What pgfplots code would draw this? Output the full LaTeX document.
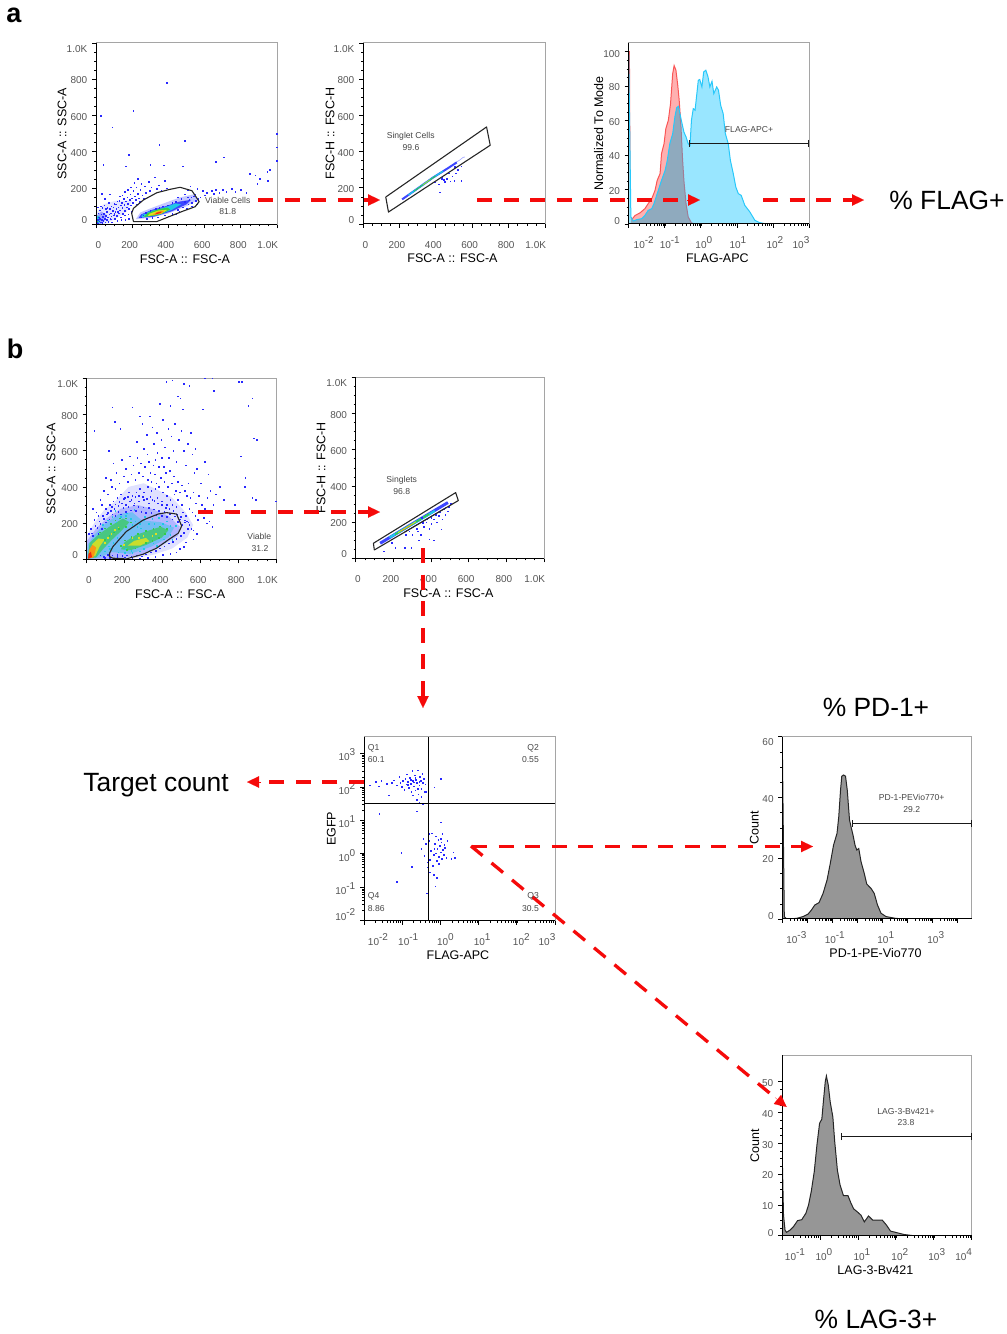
\documentclass[border=0pt]{standalone}
\usepackage{pgfplots}
\usepackage{pgfplotstable}
\usepackage{fontspec}
\setmainfont{Liberation Sans}
\pgfplotsset{compat=1.18}
\usetikzlibrary{arrows.meta}
\definecolor{ticktxt}{RGB}{85,85,85}
\definecolor{gatetxt}{RGB}{70,70,70}
\definecolor{frameg}{RGB}{165,165,165}
\definecolor{arrowred}{RGB}{245,10,10}
\definecolor{dotb}{RGB}{40,40,255}
\definecolor{haze}{RGB}{60,70,255}
\definecolor{dcyan}{RGB}{30,200,230}
\definecolor{dgreen}{RGB}{50,205,70}
\definecolor{dyellow}{RGB}{225,225,30}
\definecolor{dorange}{RGB}{250,150,20}
\definecolor{dred}{RGB}{245,40,20}
\definecolor{pinkf}{RGB}{255,176,176}
\definecolor{pinkl}{RGB}{250,85,85}
\definecolor{cyanf}{RGB}{153,230,255}
\definecolor{cyanl}{RGB}{40,200,250}
\definecolor{overf}{RGB}{143,170,190}
\definecolor{overl}{RGB}{160,125,150}
\definecolor{histf}{RGB}{150,150,150}
\newcommand\rs[2]{\hspace*{#1}#2}
\newcommand\ls[2]{#2\hspace*{#1}}
\newcommand\up[2]{#2\rule[-#1]{0pt}{#1}}
\newcommand\dn[2]{#2\rule{0pt}{#1}}
\newcommand\tp[1]{10\raisebox{5pt}{#1}}
\tikzset{
 gt/.style={font=\fontsize{8.6}{10}\selectfont,text=gatetxt,inner sep=0pt},
 big/.style={font=\fontsize{26.4}{30}\selectfont,text=black,inner sep=0pt},
}
\pgfplotsset{
 flow/.style={scale only axis, clip mode=individual,
  axis line style={color=frameg,line width=1pt},
  xtick pos=bottom, ytick pos=left, tick align=outside,
  major tick length=4pt, minor tick length=2pt,
  tick style={color=black,line width=0.7pt}, minor tick style={color=black,line width=0.5pt},
  tick label style={font=\fontsize{10}{12}\selectfont,text=ticktxt,inner sep=0pt},
  xticklabel style={anchor=base,yshift=-20.5pt},
  yticklabel style={anchor=east,xshift=-4.5pt,yshift=-1.3pt},
  every axis x label/.style={at={(rel axis cs:0.5,0)},anchor=center,xshift=-1.5pt,yshift=-34.5pt,font=\fontsize{12.5}{14}\selectfont,text=black},
  label style={font=\fontsize{12.5}{14}\selectfont},
  after end axis/.code={\draw[black,line width=1pt] (rel axis cs:0,1)--(rel axis cs:0,0)--(rel axis cs:1,0);},
 },
 yl/.style={every axis y label/.style={at={(rel axis cs:0,0.5)},rotate=90,anchor=center,yshift=#1,font=\fontsize{12.5}{14}\selectfont,text=black}},
 lin/.style={flow, xmin=0,xmax=1000,ymin=0,ymax=1000,
  xtick={0,200,400,600,800,1000}, ytick={0,200,400,600,800,1000},
  minor x tick num=3, minor y tick num=3,
  xticklabels={\rs{4.6pt}{0},\ls{5pt}{200},\ls{5pt}{400},\ls{5pt}{600},\ls{5pt}{800},\ls{18.6pt}{1.0K}},
  yticklabels={\up{11pt}{0},200,400,600,800,\dn{16pt}{1.0K}}},
 dots/.style={only marks,mark=square*,mark size=0.3pt,color=dotb,mark options={draw=none,fill=dotb,fill opacity=0.6}},
 cdots/.style={only marks,mark=square*,mark size=0.32pt,color=#1,mark options={draw=none,fill=#1}},
 blob/.style={draw=none,fill=#1,forget plot},
 gate/.style={color=black!85,line width=1.1pt,line join=round},
 rl/.style={color=arrowred,line width=3.3pt,dash pattern=on 15pt off 11.6pt},
 rh/.style={color=arrowred,line width=0.2pt,-{Triangle[length=12pt,width=11.5pt,fill=arrowred]}},
 br/.style={color=black!90,line width=1pt,|-|},
}
\pgfplotstableread{
d v
-2 100
-1.98 100
-1.96 4.1
-1.92 2.5
-1.82 5.0
-1.69 6.4
-1.55 8.9
-1.46 11.8
-1.36 14.7
-1.27 19.5
-1.21 25.3
-1.13 29.2
-1.09 40.8
-1.02 46.6
-0.97 55.3
-0.90 60.2
-0.84 69.8
-0.78 87.2
-0.74 91.9
-0.69 89.2
-0.64 80.5
-0.60 71.8
-0.55 56.3
-0.51 38.9
-0.47 25.3
-0.41 11.8
-0.35 4.1
-0.26 0.6
-0.16 0
3 0
}\redhist
\pgfplotstableread{
d v
-2 100
-1.94 4.1
-1.87 1.7
-1.78 2.5
-1.64 3.1
-1.55 5
-1.46 7.9
-1.36 8.9
-1.30 11.8
-1.18 19.5
-1.09 25.3
-0.99 31.1
-0.93 36.9
-0.86 46.6
-0.78 52.4
-0.72 62.1
-0.67 67.5
-0.62 68.3
-0.58 64
-0.52 58.2
-0.47 53.4
-0.41 50.5
-0.35 46.6
-0.30 45.6
-0.26 60.2
-0.21 66.9
-0.16 66
-0.12 73.7
-0.07 83.4
-0.03 83.8
0.03 79.5
0.08 88.2
0.14 89.2
0.20 85.3
0.25 79.5
0.31 82.8
0.36 75.6
0.44 79.5
0.49 77.6
0.55 68.9
0.62 64
0.68 52.4
0.76 46.6
0.82 36.9
0.90 29.2
0.97 21.5
1.04 17.6
1.12 16.6
1.22 10.8
1.36 7
1.50 2.1
1.63 0.8
1.82 0
3 0
}\bluehist
\pgfplotstableread{
d v
-1.94 4.1
-1.87 1.7
-1.78 2.5
-1.64 3.1
-1.55 5
-1.46 7.9
-1.36 8.9
-1.30 11.8
-1.18 19.5
-1.09 25.3
-0.99 31.1
-0.93 36.9
-0.86 46.6
-0.78 52.4
-0.72 62.1
-0.67 67.5
-0.62 68.3
-0.58 64
-0.55 56.3
-0.51 38.9
-0.47 25.3
-0.41 11.8
-0.35 4.1
-0.26 0.6
-0.16 0
}\overhist
\pgfplotstableread{
d v
-3 58
-2.96 29.3
-2.92 0.8
-2.83 0
-2.43 0.2
-2.17 0.8
-1.97 1.6
-1.83 3
-1.70 4.6
-1.53 5.4
-1.37 8.4
-1.21 12.8
-1.08 18.3
-0.95 24.3
-0.81 28.2
-0.74 33.7
-0.67 42.4
-0.62 47
-0.55 47.4
-0.47 47
-0.40 42.4
-0.31 32.6
-0.25 30.4
-0.17 27.6
-0.09 24.3
-0.02 22.7
0.06 23.2
0.15 18.9
0.28 15
0.38 11.5
0.55 10.1
0.68 8.4
0.81 4.6
0.95 1.9
1.15 0.8
1.54 0.2
1.94 0
4.58 0
}\pdhist
\pgfplotstableread{
d v
-1 29.4
-0.96 6.7
-0.92 1.8
-0.88 1.1
-0.79 1.8
-0.70 2.9
-0.59 4.9
-0.48 5.2
-0.37 7.3
-0.30 10
-0.23 14.3
-0.15 20.8
-0.08 29.4
-0.01 36.5
0.05 37.9
0.09 43.5
0.14 50
0.17 51.9
0.22 48.9
0.27 43.5
0.34 38.6
0.39 30.5
0.46 21.3
0.53 16.5
0.62 13
0.74 13
0.82 10.5
0.89 8.7
0.98 7.8
1.08 6.7
1.17 4.5
1.28 6.4
1.39 5.1
1.64 5.1
1.75 3.5
1.86 1.5
1.99 1.1
2.21 0.4
2.47 0
4 0
}\laghist
\pgfplotstableread{
lx ly
-1.85 2.05
-1.70 2.15
-1.62 2.02
-1.55 2.18
-1.40 2.10
-1.28 2.12
-1.22 2.20
-1.15 2.05
-1.08 2.30
-1.05 2.12
-1.02 2.00
-0.98 2.18
-0.95 1.92
-0.92 2.25
-0.90 2.08
-0.88 2.38
-0.85 2.15
-0.83 1.98
-0.80 2.28
-0.78 2.10
-0.76 1.85
-0.74 2.48
-0.72 2.18
-0.70 2.02
-0.68 2.35
-0.66 1.90
-0.64 2.22
-0.62 2.12
-0.60 2.50
-0.58 1.78
-0.56 2.05
-0.54 2.30
-0.52 2.18
-0.50 1.95
-0.48 2.40
-0.46 2.12
-0.44 2.25
-0.42 1.85
-0.40 2.08
-0.78 2.22
-0.86 2.06
-0.70 2.14
-0.66 2.28
-0.60 1.95
-0.55 2.16
-0.50 1.70
-0.62 1.62
-0.72 1.75
-1.35 1.75
-0.55 1.52
-0.47 1.50
-0.38 1.85
-0.16 1.99
0.00 2.24
-1.60 1.20
-0.62 1.27
-0.30 0.60
-0.45 0.45
-0.38 0.30
-0.50 0.15
-0.42 -0.05
-0.35 -0.25
-0.30 0.40
-0.25 0.10
-0.22 0.62
-0.18 -0.02
-0.15 0.30
-0.12 0.52
-0.10 -0.20
-0.08 0.15
-0.06 0.42
-0.04 -0.08
-0.02 0.25
0.00 0.05
0.02 0.35
0.03 -0.15
0.05 0.60
0.06 0.12
0.08 -0.02
0.10 0.28
0.12 0.18
0.15 -0.12
-0.28 -0.18
-0.20 -0.35
-0.12 0.02
-0.04 -0.30
-0.16 0.15
0.00 0.45
0.18 0.40
0.38 -0.12
0.28 -0.14
0.33 0.05
0.00 0.94
-1.03 0.03
-1.15 -0.84
-0.75 -0.39
-0.36 -1.18
-0.14 -0.97
-0.28 -0.55
-0.18 -0.62
-0.10 -0.72
-0.35 -0.40
}\qdots
\begin{document}
\begin{tikzpicture}[x=1pt,y=1pt]
\useasboundingbox (0,0) rectangle (1007,1334);

% ---------- a1
\begin{axis}[lin,yl=34pt,at={(96pt,1109.7pt)},anchor=south west,width=181pt,height=181.3pt,
 xlabel={FSC-A :: FSC-A},ylabel={SSC-A :: SSC-A}]
\addplot[blob=haze,fill opacity=0.14] coordinates {(0,0)(0,60)(40,110)(110,130)(200,130)(170,70)(100,25)(40,0)};
\addplot[blob=haze,fill opacity=0.4] coordinates {(0,0)(0,45)(30,70)(60,50)(45,15)(25,0)};
\addplot[blob=dcyan] coordinates {(0,0)(2,40)(18,48)(25,25)(15,3)};
\addplot[blob=dgreen] coordinates {(2,5)(4,28)(12,30)(12,10)};
\addplot[blob=haze,fill opacity=0.3] coordinates {(220,28)(300,35)(400,60)(500,100)(565,135)(540,165)(470,150)(400,125)(320,95)(245,65)};
\addplot[blob=haze] coordinates {(235,35)(320,42)(420,72)(500,110)(525,135)(460,125)(385,100)(310,80)(250,55)};
\addplot[blob=dcyan] coordinates {(250,38)(340,50)(420,80)(470,110)(440,115)(370,90)(300,72)(255,52)};
\addplot[blob=dgreen] coordinates {(265,40)(350,52)(410,82)(395,92)(340,82)(285,62)};
\addplot[blob=dyellow] coordinates {(285,45)(360,58)(395,80)(345,76)(295,58)};
\addplot[blob=dorange] coordinates {(310,50)(365,62)(378,76)(340,70)};
\addplot[blob=dred] coordinates {(325,54)(358,62)(362,70)(335,64)};
\addplot[dots] coordinates {(5,10)(8,25)(12,5)(15,40)(18,18)(22,30)(25,12)(28,55)(30,25)(34,8)(38,42)(40,20)(44,60)(48,32)(50,12)(55,48)(58,25)(60,70)(65,38)(68,15)(72,55)(75,85)(78,30)(82,62)(85,45)(88,12)(92,75)(95,95)(98,50)(102,30)(105,68)(108,110)(112,85)(115,48)(118,20)(122,95)(125,62)(128,130)(132,78)(135,105)(138,40)(142,120)(145,90)(148,60)(152,140)(155,108)(158,75)(162,25)(165,128)(168,95)(172,150)(175,115)(178,55)(182,85)(185,135)(188,165)(192,105)(195,70)(198,145)(202,120)(205,185)(210,95)(215,155)(218,135)(222,205)(225,110)(230,170)(235,145)(240,125)(245,190)(250,225)(255,160)(262,140)(268,210)(275,175)(282,150)(290,235)(298,185)(305,205)(315,165)(325,260)(335,195)(345,215)(360,185)(378,240)(390,200)
(30,170)(40,330)(25,600)(90,535)(205,625)(390,780)(350,440)(490,460)(180,385)(165,320)(300,330)(375,325)(480,320)(660,345)(707,370)(850,280)(880,270)(905,250)(890,225)(960,300)(945,290)(950,240)(997,500)(997,350)(997,425)
(590,185)(610,175)(640,185)(660,190)(680,175)(700,190)(720,180)(750,195)(770,180)(800,190)(830,175)(600,160)(650,170)(560,195)(520,210)(505,190)
(250,40)(280,30)(310,35)(340,40)(380,50)(420,60)(450,80)(480,95)(510,110)(530,120)(550,130)(565,140)(540,155)(505,150)(470,140)(440,125)(420,120)(395,105)(370,100)(350,90)(330,85)(300,75)(275,65)(260,50)(490,125)(515,135)(525,150)(555,110)(575,150)(460,70)(440,55)(400,45)(500,85)(530,100)(545,165)(490,165)(450,150)
(12,62)(20,78)(35,90)(45,105)(62,92)(70,120)(85,100)(100,115)(118,128)(130,155)(145,160)(160,180)(175,190)(192,205)(210,230)(230,250)(140,25)(160,50)(180,30)(120,70)(100,60)(85,28)(55,85)(25,100)(10,95)(48,140)(75,165)};
\addplot[gate] coordinates {(197,61)(207,88)(262,134)(336,174)(410,193)(465,204)(530,185)(570,125)(548,97)(474,70)(336,15)(207,15)(197,61)};
\end{axis}

% ---------- a2
\begin{axis}[lin,yl=33pt,at={(363pt,1110pt)},anchor=south west,width=182pt,height=181pt,
 xlabel={FSC-A :: FSC-A},ylabel={FSC-H :: FSC-H}]
\addplot[color=haze,line width=0.6pt,opacity=0.5] coordinates {(500,335)(530,352)(550,368)(560,370)};
\addplot[color=haze,line width=2pt] coordinates {(215,136)(300,196)(384,256)(457,302)(515,340)};
\addplot[color=dcyan,line width=1.3pt] coordinates {(250,160)(384,256)(440,292)};
\addplot[color=dgreen,line width=0.8pt] coordinates {(280,181)(400,266)};
\addplot[color=dyellow,line width=0.4pt] coordinates {(330,217)(370,246)};
\addplot[dots,mark options={fill opacity=0.4}] coordinates {(420,175)(415,220)(450,235)(480,237)(460,250)(470,280)(435,260)(445,245)(500,240)(540,238)(510,280)(490,265)(520,300)(432,250)(395,230)(540,320)(505,318)};
\addplot[gate] coordinates {(125,149)(679,536)(699,435)(140,66)(125,149)};
\end{axis}

% ---------- a3
\begin{axis}[flow,yl=30pt,at={(628.7pt,1110pt)},anchor=south west,width=180.3pt,height=181pt,
 xmode=log,xmin=0.01,xmax=1000,ymin=0,ymax=105,
 xtick={0.01,0.1,1,10,100,1000},
 xticklabels={\rs{30pt}{\tp{-2}},\rs{10pt}{\tp{-1}},\rs{6pt}{\tp{0}},\rs{2pt}{\tp{1}},\rs{4pt}{\tp{2}},\ls{16pt}{\tp{3}}},
 ytick={0,20,40,60,80,100},minor y tick num=3,
 yticklabels={\up{8pt}{0},20,40,60,80,\dn{9pt}{100}},
 xlabel={FLAG-APC},ylabel={Normalized To Mode}]
\addplot[fill=pinkf,draw=pinkl,line width=1pt] table[x expr={10^(\thisrow{d})},y=v]{\redhist} \closedcycle;
\addplot[fill=cyanf,draw=none] table[x expr={10^(\thisrow{d})},y=v]{\bluehist} \closedcycle;
\addplot[fill=overf,draw=none] table[x expr={10^(\thisrow{d})},y=v]{\overhist} \closedcycle;
\addplot[color=overl,line width=1pt] coordinates {(0.263,64)(0.282,56.3)(0.309,38.9)(0.339,25.3)(0.389,11.8)(0.447,4.1)(0.55,0.6)(0.69,0)};
\addplot[color=pinkl,line width=1pt] coordinates {(0.69,0)(1000,0)};
\addplot[color=cyanl,line width=1pt] table[x expr={10^(\thisrow{d})},y=v]{\bluehist};
\end{axis}

% ---------- b1
\begin{axis}[lin,yl=35.7pt,at={(86.7pt,774.7pt)},anchor=south west,width=190pt,height=181pt,
 xlabel={FSC-A :: FSC-A},ylabel={SSC-A :: SSC-A}]
\addplot[blob=haze,fill opacity=0.16] coordinates {(0,0)(0,130)(40,200)(90,270)(150,320)(220,400)(300,420)(380,380)(450,340)(520,260)(560,190)(530,120)(450,60)(350,25)(250,5)(100,0)};
\addplot[blob=haze,fill opacity=0.28] coordinates {(0,0)(0,100)(50,170)(110,230)(180,280)(270,300)(340,280)(430,240)(490,180)(480,130)(400,80)(300,30)(180,5)(80,0)};
\addplot[blob=dcyan,fill opacity=0.42] coordinates {(0,0)(5,80)(40,135)(95,195)(170,250)(240,260)(290,215)(390,205)(460,175)(430,120)(340,70)(230,30)(130,40)(70,10)};
\addplot[blob=dgreen,fill opacity=0.65] coordinates {(5,5)(15,90)(60,135)(120,180)(190,225)(225,205)(180,155)(130,105)(85,55)(50,10)};
\addplot[blob=dgreen,fill opacity=0.65] coordinates {(180,55)(230,50)(310,78)(395,120)(430,160)(390,180)(330,160)(260,135)(200,95)};
\addplot[blob=dyellow,fill opacity=0.85] coordinates {(12,18)(30,85)(62,115)(95,110)(68,70)(45,18)};
\addplot[blob=dyellow,fill opacity=0.85] coordinates {(215,75)(280,75)(330,100)(312,118)(250,102)};
\addplot[blob=dorange] coordinates {(8,4)(14,55)(30,80)(50,65)(36,10)};
\addplot[blob=dred] coordinates {(7,3)(10,30)(22,42)(28,12)};
\addplot[dots] coordinates {(40,710)(115,600)(135,840)(148,760)(176,720)(240,840)(262,650)(280,790)(292,750)(300,610)(315,690)(318,580)(330,790)(345,730)(352,640)(360,550)(368,700)(372,590)(385,860)(392,660)(400,770)(405,510)(410,620)(418,980)(428,720)(432,560)(440,850)(445,680)(450,990)(455,600)(462,750)(470,540)(478,900)(485,660)(492,890)(498,710)(505,830)(512,600)(520,520)(530,640)(540,960)(548,700)(556,580)(565,480)(572,610)(580,500)(600,420)(610,830)(620,540)(640,470)(650,380)(668,930)(680,360)(700,400)(720,330)(778,300)(800,980)(815,980)(850,850)(870,890)(880,670)(895,660)(810,570)(835,450)(830,400)(870,340)(890,330)(995,320)(660,1000)(510,970)(620,1000)
(100,450)(125,440)(140,530)(155,480)(170,420)(185,550)(195,460)(205,500)(215,430)(225,570)(235,470)(245,520)(255,440)(265,560)(275,480)(285,530)(295,460)(305,510)(320,440)(325,540)(335,480)(340,430)(350,520)(358,470)(365,420)(378,510)(388,450)(395,560)(408,430)(415,480)(425,400)(438,490)(448,420)(458,460)(468,380)(480,430)(490,370)(500,410)(515,380)(525,350)(535,420)(545,340)(560,370)(575,310)(590,350)(605,300)(620,280)(635,340)(650,270)(665,300)(540,280)(555,260)(570,240)(585,220)(600,260)(615,230)(630,200)(645,210)(660,180)(520,240)(500,300)(480,330)(460,360)(440,330)(420,350)(400,370)(380,400)(360,390)(340,380)(320,400)(300,370)(280,390)(260,370)(240,350)(220,370)(200,340)(180,360)(160,340)(140,320)(120,300)(100,280)(80,300)(60,240)(40,220)(20,170)(10,140)(30,280)(50,260)(70,330)(90,380)(110,360)(130,400)(150,390)
(560,110)(580,140)(520,95)(510,70)(490,60)(470,40)(440,30)(400,25)(360,15)(320,8)(280,5)(240,8)(200,12)(160,14)(120,10)(95,8)(560,160)(540,190)(525,210)(505,260)(470,290)(450,300)(420,300)(395,320)(370,340)(345,330)(325,310)(300,330)(275,320)(250,310)(225,320)(205,300)(185,310)(165,295)(145,280)(125,270)(105,250)(85,240)(65,210)(45,185)(25,145)
(150,240)(165,262)(178,250)(192,285)(205,262)(218,290)(232,272)(246,298)(258,268)(272,292)(286,264)(298,288)(312,258)(326,284)(340,256)(352,276)(366,248)(380,268)(394,240)(408,262)(422,234)(436,252)(450,222)(464,238)(478,208)(490,222)(502,190)(516,205)(530,170)(510,148)(495,130)(470,115)(452,98)(430,88)(408,72)(385,62)(362,48)(338,40)(312,28)(288,18)(262,22)(235,14)(210,22)(186,20)(160,26)(135,22)(110,24)(90,14)(70,22)(60,140)(80,170)(100,205)(118,222)(135,250)(55,175)(32,130)(70,195)(90,225)(110,258)(130,290)(150,305)(170,318)(195,335)(215,345)(235,330)(255,345)(275,352)(295,345)(315,335)(335,345)(355,325)(375,310)(395,300)(415,285)(435,280)(455,268)(475,250)(495,235)(515,215)(535,205)(550,168)};
\addplot[cdots=dcyan] coordinates {(85,190)(110,215)(135,235)(210,255)(250,275)(150,270)(305,235)(345,225)(380,230)(420,210)(470,185)(450,110)(410,95)(370,75)(330,50)(280,45)(240,35)(200,35)(165,40)(120,60)(95,45)(155,205)(180,235)(205,240)(230,225)(255,210)(280,198)(300,215)(325,198)(355,195)(400,195)(440,185)(240,190)(265,180)(285,172)(160,120)(140,90)(115,72)(205,60)(235,48)(300,60)(350,88)(405,112)(440,135)};
\addplot[cdots=dgreen] coordinates {(70,150)(95,172)(125,195)(150,215)(175,228)(205,228)(232,205)(205,180)(170,170)(142,150)(118,130)(95,110)(180,75)(210,52)(255,62)(310,90)(345,102)(380,118)(410,140)(420,168)(385,182)(350,170)(310,158)(270,142)(235,125)(200,105)};
\addplot[cdots=dyellow] coordinates {(110,120)(128,140)(148,165)(165,178)(95,90)(240,118)(272,120)(298,132)(345,132)(362,140)(195,80)};
\addplot[gate] coordinates {(120,33)(138,70)(208,153)(297,217)(376,250)(420,258)(473,250)(500,184)(482,144)(429,107)(367,61)(297,28)(208,2)(138,6)(120,15)(120,33)};
\end{axis}

% ---------- b2
\begin{axis}[lin,yl=34.7pt,at={(355.7pt,775.7pt)},anchor=south west,width=188.3pt,height=181pt,
 xlabel={FSC-A :: FSC-A},ylabel={FSC-H :: FSC-H}]
\addplot[color=haze,line width=3pt] coordinates {(130,83)(300,190)(490,308)};
\addplot[color=dcyan,line width=2.2pt] coordinates {(180,115)(420,262)};
\addplot[color=dgreen,line width=1.4pt] coordinates {(210,132)(390,245)};
\addplot[color=dyellow,line width=0.8pt] coordinates {(225,142)(320,202)};
\addplot[color=dorange,line width=0.5pt] coordinates {(240,150)(300,188)};
\addplot[color=blue!50!black,line width=0.8pt] coordinates {(260,145)(480,280)};
\addplot[dots] coordinates {(150,40)(190,85)(210,60)(260,60)(295,60)(335,100)(350,55)(390,105)(415,100)(300,130)(330,150)(345,130)(360,175)(375,200)(390,165)(400,190)(415,215)(430,200)(440,235)(460,215)(475,240)(455,160)(490,260)(470,275)(445,255)(425,240)(400,225)(380,215)(355,195)(325,165)(285,150)(265,130)(495,285)(505,300)(350,225)};
\addplot[gate] coordinates {(94,83)(531,363)(545,319)(99,46)(94,83)};
\end{axis}

% ---------- quadrant
\begin{axis}[flow,yl=32.7pt,at={(364pt,413.3pt)},anchor=south west,width=191pt,height=184pt,
 xmode=log,ymode=log,xmin=0.01,xmax=1000,ymin=0.01,ymax=3162,
 xtick={0.01,0.1,1,10,100,1000},ytick={0.01,0.1,1,10,100,1000},
 xticklabels={\rs{28pt}{\tp{-2}},\rs{12pt}{\tp{-1}},\rs{10pt}{\tp{0}},\rs{7pt}{\tp{1}},\rs{9pt}{\tp{2}},\ls{16pt}{\tp{3}}},
 yticklabels={\up{14pt}{\tp{-2}},\tp{-1},\tp{0},\tp{1},\tp{2},\tp{3}},
 xlabel={FLAG-APC},ylabel={EGFP}]
\addplot[dots] table[x expr={10^(\thisrow{lx})},y expr={10^(\thisrow{ly})}]{\qdots};
\addplot[color=black,line width=1.1pt] coordinates {(0.493,0.01)(0.493,3162)};
\addplot[color=black,line width=1.1pt] coordinates {(0.01,31.2)(1000,31.2)};
\end{axis}

% ---------- PD-1
\begin{axis}[flow,yl=28pt,at={(782.3pt,415pt)},anchor=south west,width=189.4pt,height=182.3pt,
 xmode=log,xmin=0.001,xmax=38000,ymin=0,ymax=60,
 xtick={0.001,0.01,0.1,1,10,100,1000,10000},
 xticklabels={\rs{28pt}{\tp{-3}},,\rs{5pt}{\tp{-1}},,\rs{7pt}{\tp{1}},,\rs{7pt}{\tp{3}},},
 ytick={0,20,40,60},minor y tick num=3,
 yticklabels={\up{8pt}{0},20,40,\dn{16pt}{60}},
 xlabel={PD-1-PE-Vio770},ylabel={Count}]
\addplot[fill=histf,draw=black!85,line width=1pt] table[x expr={10^(\thisrow{d})},y=v]{\pdhist} \closedcycle;
\end{axis}

% ---------- LAG-3
\begin{axis}[flow,yl=27.3pt,at={(782pt,98.3pt)},anchor=south west,width=189.7pt,height=180.7pt,
 xmode=log,xmin=0.1,xmax=10000,ymin=0,ymax=58.7,
 xtick={0.1,1,10,100,1000,10000},
 xticklabels={\rs{26pt}{\tp{-1}},\rs{8pt}{\tp{0}},\rs{8pt}{\tp{1}},\rs{8pt}{\tp{2}},\rs{6pt}{\tp{3}},\ls{16pt}{\tp{4}}},
 ytick={0,10,20,30,40,50},minor y tick num=3,
 yticklabels={\up{8pt}{0},10,20,30,40,50},
 xlabel={LAG-3-Bv421},ylabel={Count}]
\addplot[fill=histf,draw=black!85,line width=1pt] table[x expr={10^(\thisrow{d})},y=v]{\laghist} \closedcycle;
\end{axis}

% ---------- overlay in picture pixels
\begin{axis}[at={(0pt,0pt)},anchor=south west,scale only axis,width=1007pt,height=1334pt,
 hide axis,clip=false,xmin=0,xmax=1007,ymin=0,ymax=1334,y dir=reverse]
% brackets
\addplot[br] coordinates {(689.3,143.3)(809,143.3)};
\addplot[br] coordinates {(851.7,823.3)(971.7,823.3)};
\addplot[br] coordinates {(840.7,1136.7)(971.7,1136.7)};
% arrows
\addplot[rl] coordinates {(258,200)(368,200)};
\addplot[rh] coordinates {(366,200)(380,200)};
\addplot[rl] coordinates {(477,200)(689,200)};
\addplot[rh] coordinates {(687,200)(700,200)};
\addplot[rl] coordinates {(763,200)(853,200)};
\addplot[rh] coordinates {(851,200)(864,200)};
\addplot[rl] coordinates {(198,512)(368,512)};
\addplot[rh] coordinates {(366,512)(380,512)};
\addplot[rl] coordinates {(423,548)(423,697)};
\addplot[rh] coordinates {(423,695)(423,708)};
\addplot[rl] coordinates {(364,782)(259,782)};
\addplot[rh] coordinates {(261,782)(247,782)};
\addplot[rl] coordinates {(472,846.5)(802,846.5)};
\addplot[rh] coordinates {(800,846.5)(813,846.5)};
\addplot[rl] coordinates {(471,846)(778,1100)};
\addplot[rh] coordinates {(775,1097.5)(786.7,1107)};
% texts
\node[font=\bfseries\fontsize{27}{30}\selectfont,inner sep=0pt] at (axis cs:14,15) {a};
\node[font=\bfseries\fontsize{27}{30}\selectfont,inner sep=0pt] at (axis cs:15,349) {b};
\node[big] at (axis cs:947,200) {\% FLAG+};
\node[big] at (axis cs:156,785) {Target count};
\node[big] at (axis cs:876,707) {\% PD-1+};
\node[big] at (axis cs:876,1319) {\% LAG-3+};
\node[gt] at (axis cs:227.7,200.7) {Viable Cells};
\node[gt] at (axis cs:227.7,212) {81.8};
\node[gt] at (axis cs:410.7,136) {Singlet Cells};
\node[gt] at (axis cs:411,148) {99.6};
\node[gt] at (axis cs:749,130) {FLAG-APC+};
\node[gt] at (axis cs:259.3,536.7) {Viable};
\node[gt] at (axis cs:260,548.3) {31.2};
\node[gt] at (axis cs:401.7,480.7) {Singlets};
\node[gt] at (axis cs:401.7,492) {96.8};
\node[gt,anchor=west] at (axis cs:367.7,748.3) {Q1};
\node[gt,anchor=west] at (axis cs:367.7,760) {60.1};
\node[gt,anchor=east] at (axis cs:539,748.3) {Q2};
\node[gt,anchor=east] at (axis cs:539,760) {0.55};
\node[gt,anchor=east] at (axis cs:539,896.7) {Q3};
\node[gt,anchor=east] at (axis cs:539,908.3) {30.5};
\node[gt,anchor=west] at (axis cs:367.7,896.7) {Q4};
\node[gt,anchor=west] at (axis cs:367.7,908.3) {8.86};
\node[gt] at (axis cs:911.7,797.7) {PD-1-PEVio770+};
\node[gt] at (axis cs:911.7,810) {29.2};
\node[gt] at (axis cs:906,1111.7) {LAG-3-Bv421+};
\node[gt] at (axis cs:906,1123) {23.8};
\end{axis}
\end{tikzpicture}
\end{document}
